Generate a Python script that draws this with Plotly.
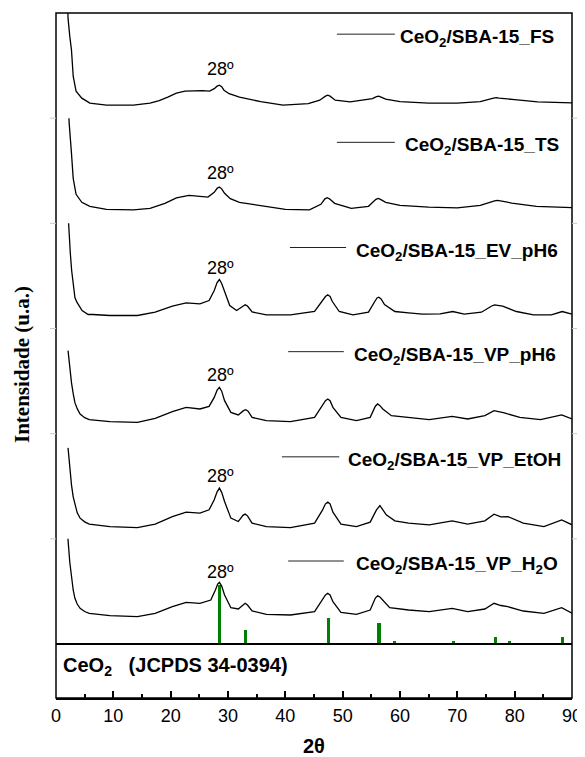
import plotly.graph_objects as go

# ---------------- data (2theta in degrees, intensity in arbitrary units) ----------------
fs_x = [1.9, 2.1, 2.4, 2.7, 3.0, 3.5, 4.5, 5.9, 8.8, 13.5, 16.4, 18.0, 19.5, 21.0, 22.5, 24.0, 25.5, 26.8, 27.6,
        28.1, 28.5, 28.9, 29.3, 30.2, 32.0, 35.7, 39.6, 44.0, 46.0, 47.0, 47.4, 47.8, 48.7, 51.3, 53.9, 55.2,
        55.9, 56.3, 56.7, 57.5, 60.0, 65.0, 70.0, 74.0, 76.3, 76.8, 77.3, 78.5, 80.0, 84.0, 88.3, 90.0]
fs_y = [140, 100, 82, 68, 42, 27, 20, 15, 13, 13, 15, 17.5, 21, 25, 27, 27.5, 27.5, 27, 29.5,
        32, 33, 31.5, 28, 24.5, 21, 16.5, 13, 14.5, 18, 22, 23, 22, 18, 16.3, 18, 19.5,
        21.5, 22, 21, 19, 16.5, 15, 15, 16.5, 20, 20.5, 20, 19.5, 18.5, 16.3, 15.5, 15.3]

ts_x = [1.95, 2.3, 2.7, 3.0, 3.5, 4.5, 5.9, 8.8, 13.5, 16.4, 19.0, 21.0, 23.2, 25.0, 26.5, 27.6, 28.1, 28.5,
        28.9, 29.4, 30.4, 32.0, 35.7, 40.0, 44.2, 46.2, 46.9, 47.3, 47.7, 48.6, 51.5, 54.5, 55.8, 56.2, 56.6,
        57.5, 60.0, 65.0, 70.0, 74.0, 76.5, 77.0, 77.5, 79.5, 83.8, 88.0, 90.0]
ts_y = [140, 100, 70, 45, 29, 21, 17, 14, 13.5, 15, 20, 25.5, 28, 27, 26.3, 31, 35, 36.3,
        34.5, 30, 24.7, 21, 18, 14, 13.5, 19, 24.5, 25.7, 24.5, 20, 15, 17, 24, 25, 24,
        21, 18, 16.3, 15.5, 18, 22.5, 23, 22.5, 20.3, 17, 16.3, 15.7]

ev_x = [1.95, 2.15, 2.5, 2.73, 3.03, 3.3, 3.64, 4.2, 4.55, 5.6, 6.4, 9.4, 14.2, 17.3, 20.3, 22.7, 25.1, 26.7,
        27.6, 28.1, 28.5, 28.9, 29.4, 30.3, 31.5, 32.6, 33.0, 33.4, 34.2, 36.7, 40.9, 45.1, 46.4, 47.0, 47.4,
        47.8, 48.2, 49.4, 51.8, 54.5, 55.6, 56.0, 56.3, 56.7, 57.3, 59.1, 61.5, 63.9, 67.0, 69.2, 71.2, 74.2,
        76.0, 76.5, 77.9, 80.3, 83.3, 86.4, 88.3, 90.0]
ev_y = [130, 105, 75, 58, 46, 31, 26.3, 21, 18, 14, 14, 13, 13, 16.3, 22.3, 25.7, 24.7, 28,
        38, 46, 49, 45, 36.3, 23, 18, 22.5, 23.7, 22.5, 16.5, 13.7, 13.7, 17, 27, 32, 33.7,
        32, 27, 17, 13.7, 16.3, 27, 30.5, 31.3, 29.5, 24, 17, 15.7, 14.3, 14.7, 17, 14.3, 16.3,
        22.5, 23.7, 22.3, 17, 13.7, 13.7, 17, 14.3]

vp6_x = [2.1, 2.4, 2.7, 3.0, 3.3, 3.7, 4.2, 5.0, 5.8, 9.4, 14.2, 17.3, 20.3, 22.7, 25.1, 26.7, 27.6, 28.1,
         28.5, 28.9, 29.4, 30.5, 31.8, 32.7, 33.1, 33.5, 34.2, 36.7, 40.9, 45.1, 46.5, 47.0, 47.4, 47.8,
         48.3, 49.7, 52.4, 54.8, 55.7, 56.1, 56.5, 57.0, 58.5, 61.5, 65.1, 69.1, 71.8, 74.8, 76.4, 78.2,
         80.9, 84.5, 88.2, 90.0]
vp6_y = [83, 65, 51, 40, 31, 25, 19.7, 16, 14, 12, 11.3, 15.3, 22, 26.3, 24.7, 27.3, 36.3, 43.5,
         46.3, 42.5, 33, 21.3, 18.7, 23, 24, 22.5, 16.3, 13, 12, 16.3, 28, 33, 34.7, 33,
         26.3, 16.3, 13, 16.3, 27.5, 29.7, 28, 24.7, 18, 16.3, 14, 17.3, 14.7, 18, 23, 20.7,
         16.3, 14, 18.7, 14.7]

etoh_x = [2.1, 2.4, 2.7, 3.0, 3.3, 3.7, 4.2, 5.0, 5.8, 9.4, 14.2, 17.3, 20.3, 22.7, 25.1, 26.7, 27.6, 28.1,
          28.5, 28.9, 29.4, 30.5, 31.8, 32.6, 33.0, 33.4, 34.2, 36.7, 40.9, 45.1, 46.5, 47.0, 47.4, 47.8,
          48.3, 49.7, 52.4, 54.8, 55.9, 56.5, 57.6, 59.1, 61.5, 65.1, 69.1, 71.8, 74.8, 76.4, 77.6, 78.8,
          81.5, 85.1, 88.2, 90.0]
etoh_y = [91, 70, 54, 42, 34, 26, 20.7, 17, 14.7, 12.3, 11.3, 14.7, 22.3, 26.7, 25.7, 29, 39, 47,
          50.7, 46.5, 37.3, 20.7, 17.3, 23.5, 24.7, 23, 15.7, 12.3, 11.3, 15.7, 29, 35, 36.7, 35,
          26.7, 14.7, 12.3, 16.7, 29, 33.3, 24, 18, 15.7, 14, 18, 14.7, 18, 24.7, 22, 22.3,
          15.7, 12.3, 19, 14]

h2o_x = [1.95, 2.1, 2.4, 2.7, 3.0, 3.3, 3.7, 4.2, 5.0, 5.8, 9.4, 14.2, 17.3, 20.3, 22.7, 25.1, 27.0, 27.8,
         28.2, 28.5, 28.9, 29.4, 30.5, 31.8, 32.6, 33.0, 33.4, 34.2, 36.7, 40.9, 45.1, 46.5, 47.0, 47.4,
         47.8, 48.3, 49.7, 52.4, 54.8, 55.7, 56.1, 56.5, 57.0, 58.2, 61.5, 65.1, 69.1, 71.8, 74.8, 76.4,
         77.6, 78.8, 81.5, 85.1, 88.2, 90.0]
h2o_y = [130, 104, 82, 65.7, 54, 45.7, 40, 35.7, 32.5, 30.7, 28.3, 27.3, 30.7, 37.3, 41.7, 40.7, 44, 54,
         60, 61.7, 58, 49, 36.3, 35, 39.5, 40.7, 39, 33, 29.7, 29, 32.3, 44, 49, 50.7,
         49, 42.3, 31.7, 29.7, 34, 46, 48.3, 47, 44, 36.3, 34, 32.3, 35.7, 32.3, 35, 40.7,
         38.5, 37.3, 33, 30.7, 36.3, 30.7]

jcpds_pos = [28.55, 33.08, 47.48, 56.34, 59.09, 69.40, 76.70, 79.07, 88.41]
jcpds_int = [59, 14.3, 25.7, 20.7, 3.3, 3.3, 6.7, 3.3, 6.7]

sample_labels = [
    "CeO<sub>2</sub>/SBA-15_FS",
    "CeO<sub>2</sub>/SBA-15_TS",
    "CeO<sub>2</sub>/SBA-15_EV_pH6",
    "CeO<sub>2</sub>/SBA-15_VP_pH6",
    "CeO<sub>2</sub>/SBA-15_VP_EtOH",
    "CeO<sub>2</sub>/SBA-15_VP_H<sub>2</sub>O",
]
peak_label = "28º"
ref_label = "CeO<sub>2</sub>\u00a0\u00a0\u00a0(JCPDS 34-0394)"
x_title = "2θ"
y_title = "Intensidade (u.a.)"
x_ticks = [0, 10, 20, 30, 40, 50, 60, 70, 80, 90]

series = [(fs_x, fs_y), (ts_x, ts_y), (ev_x, ev_y), (vp6_x, vp6_y), (etoh_x, etoh_y), (h2o_x, h2o_y)]

# ---------------- layout geometry ----------------
# the page body has an 8px default margin, so the figure is offset by 8px
OFF = 8
W, H = 585 - OFF, 757 - OFF
ML, MT = 56 - OFF, 13 - OFF
PW = 572 - 56                # plot width in px (516)
PH = 698 - 13                # plot height in px (685)
MR = W - ML - PW
MB = H - MT - PH
REF_H = 54                   # bottom reference panel height in px
panel_px = (PH - REF_H) / 6.0
ref_frac = REF_H / PH
pf = panel_px / PH
YR = panel_px                # each stacked panel range in px-like units


def page_y(py):
    """paper y-fraction for a page pixel row"""
    return (698 - py) / PH


def page_x(px):
    return (px - 56) / PW


fig = go.Figure()

# reference bars (drawn in the lowest stacked panel, below the curve)
fig.add_trace(go.Bar(x=jcpds_pos, y=jcpds_int, xaxis="x", yaxis="y7", width=0.55,
                     marker=dict(color="#008000", line=dict(width=0)), showlegend=False,
                     hoverinfo="skip"))

for i, (xs, ys) in enumerate(series):
    fig.add_trace(go.Scatter(x=xs, y=ys, mode="lines", xaxis="x", yaxis=f"y{i+2}",
                             line=dict(color="black", width=1.3), showlegend=False,
                             hoverinfo="skip"))

layout = dict(
    width=W, height=H,
    margin=dict(l=ML, r=MR, t=MT, b=MB, pad=0),
    paper_bgcolor="white", plot_bgcolor="white",
    showlegend=False, bargap=0,
    xaxis=dict(domain=[0, 1], range=[0, 90], anchor="y", tickmode="array", tickvals=x_ticks,
               ticks="inside", ticklen=7, tickwidth=1.5, tickcolor="black",
               minor=dict(ticks="inside", ticklen=4, tickwidth=1.5, tickcolor="black", dtick=5),
               showline=True, linecolor="black", linewidth=1.5, showgrid=False, zeroline=False,
               tickfont=dict(family="Liberation Sans, Arial", size=18, color="black"),
               ticklabelstandoff=1, automargin=False),
    yaxis=dict(domain=[0, ref_frac], range=[0, 1], visible=False, anchor="x"),
)
for i in range(6):
    top = 1 - i * pf
    bot = 1 - (i + 1) * pf
    layout[f"yaxis{i+2}"] = dict(domain=[max(bot, 0), min(top, 1)], range=[0, YR], visible=False,
                                 anchor="x")
fig.update_layout(**layout)

shapes = []
# frame and divider
shapes.append(dict(type="rect", xref="paper", yref="paper", x0=0, x1=1, y0=0, y1=1,
                   line=dict(color="black", width=1.5)))
shapes.append(dict(type="line", xref="paper", yref="paper", x0=0, x1=1, y0=ref_frac, y1=ref_frac,
                   line=dict(color="black", width=2)))
# faint panel-boundary marks
for i in range(1, 6):
    yb = 1 - i * pf
    shapes.append(dict(type="line", xref="paper", yref="paper", x0=-6 / PW, x1=0, y0=yb, y1=yb,
                       line=dict(color="#c8c8c8", width=1)))
    shapes.append(dict(type="line", xref="paper", yref="paper", x0=1, x1=1 + 5 / PW, y0=yb, y1=yb,
                       line=dict(color="#c8c8c8", width=1)))

# per-panel label line positions (x0, x1, text start, line height) and 28º heights
label_pos = [(49.0, 59.1, 59.7, 84), (49.0, 59.1, 60.5, 81), (40.8, 50.6, 52.0, 81),
             (40.5, 50.2, 51.7, 82), (39.4, 49.4, 50.6, 82), (40.5, 50.2, 51.9, 83)]
peak_h = [49, 50, 61, 59, 63, 72]

annotations = []
for i in range(6):
    x0, x1, xt, lh = label_pos[i]
    yref = f"y{i+2}"
    shapes.append(dict(type="line", xref="x", yref=yref, x0=x0, x1=x1, y0=lh, y1=lh,
                       line=dict(color="#222222", width=1)))
    annotations.append(dict(x=xt, y=lh - 4, xref="x", yref=yref, text=f"<b>{sample_labels[i]}</b>",
                            showarrow=False, xanchor="left", yanchor="middle",
                            font=dict(family="Liberation Sans, Arial", size=19, color="black")))
    annotations.append(dict(x=28.7, y=peak_h[i], xref="x", yref=yref, text=peak_label,
                            showarrow=False, xanchor="center", yanchor="middle",
                            font=dict(family="Liberation Sans, Arial", size=18, color="black")))

annotations.append(dict(x=0.8, y=0.58, xref="x", yref="y", text=f"<b>{ref_label}</b>",
                        showarrow=False, xanchor="left", yanchor="middle",
                        font=dict(family="Liberation Sans, Arial", size=20, color="black")))
annotations.append(dict(x=45, y=page_y(746), xref="x", yref="paper",
                        text=f"<b>{x_title}</b>", showarrow=False, xanchor="center", yanchor="middle",
                        font=dict(family="Liberation Sans, Arial", size=20, color="black")))
annotations.append(dict(x=page_x(22), y=page_y(365), xref="paper", yref="paper",
                        text=f"<b>{y_title}</b>", showarrow=False, textangle=-90,
                        xanchor="center", yanchor="middle",
                        font=dict(family="Liberation Serif, Times New Roman", size=21, color="black")))

fig.update_layout(shapes=shapes, annotations=annotations)
fig.write_html("out.html")
